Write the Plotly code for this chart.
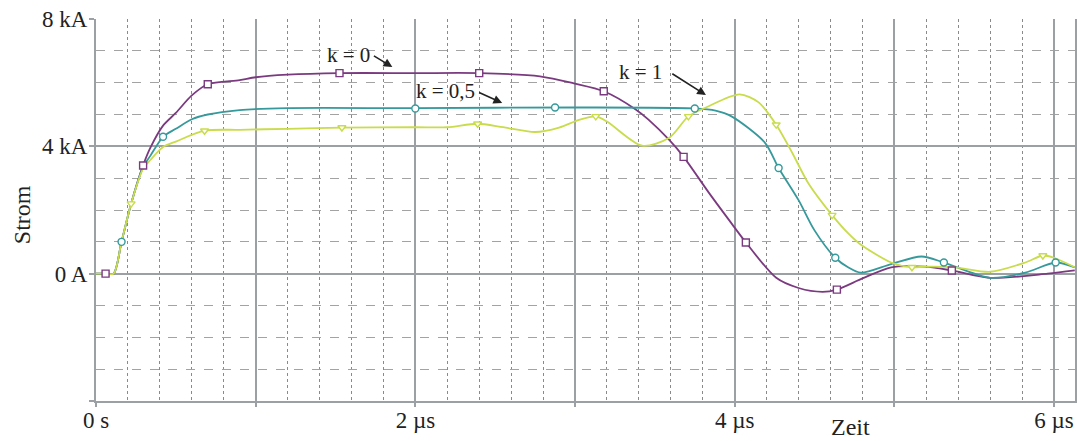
import plotly.graph_objects as go

# ---- data (time in µs, current in kA) ----
t_k0 = [0, 0.06, 0.11, 0.16, 0.22, 0.295, 0.34, 0.42, 0.5, 0.6, 0.7, 0.9, 1.0, 1.2, 1.525, 2.0, 2.4, 2.78, 3.0, 3.18,
        3.38, 3.46, 3.59, 3.68, 3.84, 3.98, 4.07, 4.26, 4.4, 4.55, 4.64, 4.8, 4.98, 5.19, 5.36, 5.6, 5.96, 6.13]
i_k0 = [0, 0, 0, 1.0, 2.2, 3.4, 3.95, 4.65, 5.05, 5.6, 5.95, 6.08, 6.17, 6.25, 6.3, 6.3, 6.3, 6.2, 5.97, 5.73,
        5.16, 4.84, 4.2, 3.67, 2.53, 1.58, 0.98, -0.13, -0.45, -0.57, -0.5, -0.15, 0.2, 0.22, 0.1, -0.13, 0.0, 0.1]
mt_k0 = [0.06, 0.295, 0.7, 1.525, 2.4, 3.18, 3.68, 4.07, 4.64, 5.36]
mi_k0 = [0, 3.4, 5.95, 6.3, 6.3, 5.73, 3.67, 0.98, -0.5, 0.1]

t_k05 = [0, 0.06, 0.11, 0.16, 0.22, 0.295, 0.34, 0.42, 0.5, 0.6, 0.7, 0.9, 1.2, 2.0, 3.0, 3.75, 3.88, 3.98, 4.19,
         4.275, 4.4, 4.5, 4.63, 4.71, 4.79, 4.98, 5.17, 5.31, 5.6, 5.82, 6.01, 6.13]
i_k05 = [0, 0, 0, 1.0, 2.2, 3.35, 3.7, 4.3, 4.55, 4.85, 5.0, 5.14, 5.2, 5.2, 5.22, 5.19, 5.12, 4.94, 4.11,
         3.32, 2.31, 1.36, 0.5, 0.2, 0.03, 0.3, 0.54, 0.35, -0.13, 0.03, 0.35, 0.2]
mt_k05 = [0.16, 0.42, 2.0, 2.875, 3.75, 4.275, 4.63, 5.31, 6.01]
mi_k05 = [1.0, 4.3, 5.19, 5.22, 5.19, 3.32, 0.5, 0.35, 0.35]

t_k1 = [0, 0.06, 0.11, 0.16, 0.22, 0.295, 0.34, 0.42, 0.5, 0.68, 0.9, 1.2, 1.54, 2.0, 2.2, 2.39, 2.55, 2.75, 2.9,
        3.03, 3.13, 3.2, 3.42, 3.59, 3.71, 3.82, 4.03, 4.15, 4.26, 4.36, 4.46, 4.61, 4.71, 4.78, 4.98, 5.11, 5.19,
        5.38, 5.6, 5.82, 5.93, 6.0, 6.13]
i_k1 = [0, 0, 0, 1.0, 2.2, 3.3, 3.57, 3.98, 4.15, 4.49, 4.52, 4.55, 4.59, 4.6, 4.6, 4.71, 4.6, 4.45, 4.59,
        4.84, 4.94, 4.78, 4.02, 4.27, 4.94, 5.22, 5.63, 5.38, 4.68, 3.8, 2.85, 1.84, 1.27, 0.95, 0.35, 0.2, 0.22,
        0.2, 0.06, 0.35, 0.57, 0.5, 0.2]
mt_k1 = [0.22, 0.68, 1.54, 2.39, 3.13, 3.71, 4.26, 4.61, 5.11, 5.93]
mi_k1 = [2.2, 4.49, 4.59, 4.71, 4.94, 4.94, 4.68, 1.84, 0.2, 0.57]

x_tickvals = [0, 1, 2, 3, 4, 5, 6]
x_ticktext = ["0 s", "", "2 µs", "", "4 µs", "", "6 µs"]
y_tickvals = [-4, 0, 4, 8]
y_ticktext = ["", "0 A", "4 kA", "8 kA"]

FONT = "Liberation Serif, Times New Roman, serif"
C0 = "#7b3a80"
C05 = "#36999b"
C1 = "#c9dc4c"

fig = go.Figure()
series = [
    (t_k0, i_k0, mt_k0, mi_k0, C0, "square", "k = 0"),
    (t_k05, i_k05, mt_k05, mi_k05, C05, "circle", "k = 0,5"),
    (t_k1, i_k1, mt_k1, mi_k1, C1, "triangle-down", "k = 1"),
]
for t, i, mt, mi, col, sym, name in series:
    fig.add_trace(go.Scatter(x=t, y=i, mode="lines", name=name,
                             line=dict(color=col, width=1.8, shape="spline", smoothing=0.8),
                             showlegend=False, hoverinfo="skip"))
for t, i, mt, mi, col, sym, name in series:
    fig.add_trace(go.Scatter(x=mt, y=mi, mode="markers", name=name,
                             marker=dict(symbol=sym, size=7, color="white",
                                         line=dict(color=col, width=1.4)),
                             showlegend=False))

# annotations: labels + arrows
labels = [
    ("k = 0", 1.584, 6.87, 1.731, 6.87, 1.856, 6.49),
    ("k = 0,5", 2.19, 5.74, 2.39, 5.71, 2.544, 5.36),
    ("k = 1", 3.41, 6.34, 3.6, 6.31, 3.82, 5.61),
]
for txt, tx, ty, ax, ay, hx, hy in labels:
    fig.add_annotation(x=tx, y=ty, text=txt, showarrow=False,
                       font=dict(family=FONT, size=21, color="#222"))
    fig.add_annotation(x=hx, y=hy, ax=ax, ay=ay, xref="x", yref="y", axref="x", ayref="y",
                       text="", showarrow=True, arrowhead=2, arrowsize=1.1, arrowwidth=1.6,
                       arrowcolor="#222")

fig.add_annotation(xref="paper", yref="paper", x=0.7706, y=-0.068, xanchor="center", yanchor="middle",
                   text="Zeit", showarrow=False, font=dict(family=FONT, size=24, color="#222"))
fig.add_annotation(xref="paper", yref="paper", x=-0.0754, y=0.487, xanchor="center", yanchor="middle",
                   text="Strom", showarrow=False, textangle=-90,
                   font=dict(family=FONT, size=24, color="#222"))

fig.update_xaxes(range=[0, 6.13125], tickmode="array", tickvals=x_tickvals, ticktext=x_ticktext,
                 showgrid=True, gridcolor="#9aa0a4", gridwidth=1.5,
                 ticks="outside", ticklen=4, tickcolor="#9aa0a4", tickwidth=1.5,
                 ticklabelstandoff=-7,
                 minor=dict(dtick=0.2, showgrid=True, gridcolor="#8a8a8a", griddash="dot", gridwidth=1.3),
                 showline=True, linecolor="#9aa0a4", linewidth=2, mirror=False,
                 zeroline=False, tickfont=dict(family=FONT, size=23, color="#222"))
fig.update_yaxes(range=[-4, 8], tickmode="array", tickvals=y_tickvals, ticktext=y_ticktext,
                 showgrid=True, gridcolor="#9aa0a4", gridwidth=1.5,
                 ticks="outside", ticklen=5, tickcolor="#9aa0a4", tickwidth=1.5,
                 ticklabelstandoff=-3,
                 minor=dict(dtick=1, showgrid=True, gridcolor="#a3a3a3", griddash="dash", gridwidth=1.2),
                 showline=True, linecolor="#9aa0a4", linewidth=2, mirror=True,
                 zeroline=False, tickfont=dict(family=FONT, size=23, color="#222"))

fig.update_layout(width=1077, height=441, margin=dict(l=96, r=0, t=19, b=40),
                  paper_bgcolor="white", plot_bgcolor="white", showlegend=False)

fig.write_html("out.html")
